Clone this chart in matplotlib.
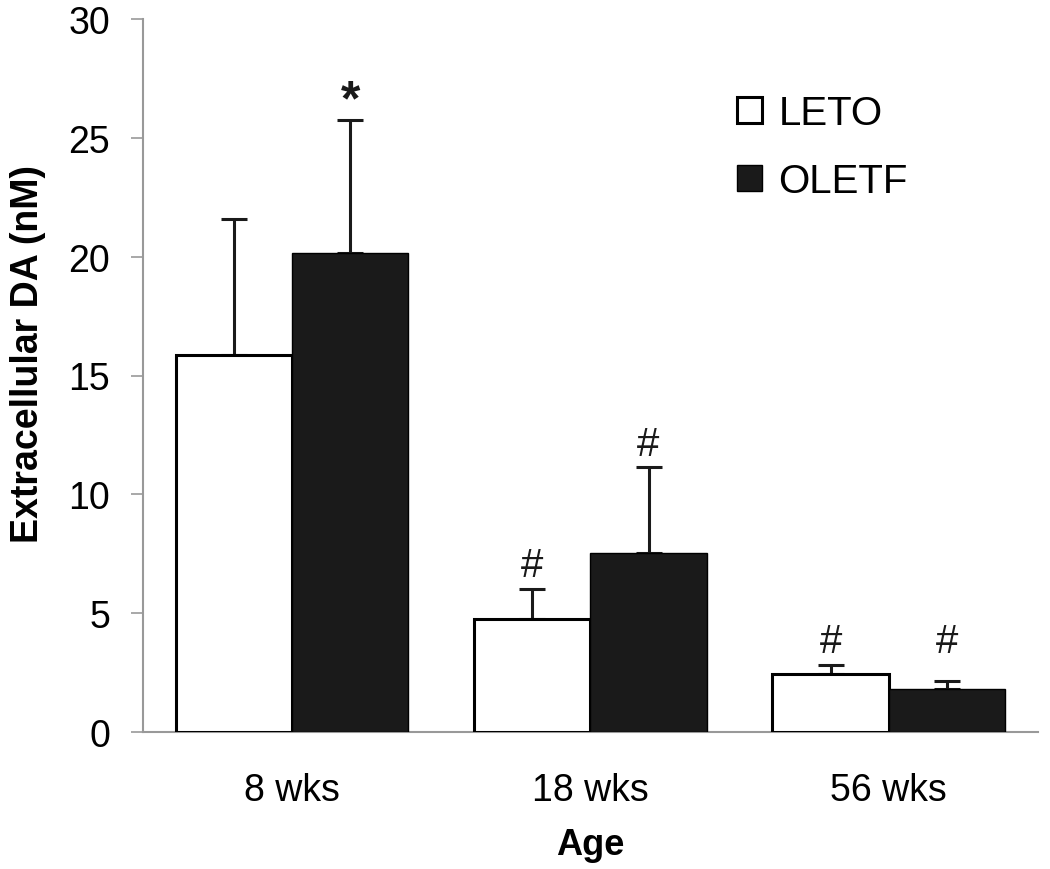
import matplotlib
matplotlib.use("Agg")
import matplotlib.pyplot as plt
import numpy as np

plt.rcParams['font.family'] = ['Liberation Sans', 'DejaVu Sans']

categories = ["8 wks", "18 wks", "56 wks"]
leto_mean = [15.85, 4.74, 2.42]
leto_err = [5.75, 1.29, 0.41]
oletf_mean = [20.15, 7.55, 1.81]
oletf_err = [5.6, 3.59, 0.35]
leto_marks = ["", "#", "#"]
oletf_marks = ["*", "#", "#"]
yticks = [0, 5, 10, 15, 20, 25, 30]

fig = plt.figure(figsize=(10.5, 8.7), dpi=100)
ax = fig.add_axes([142.7/1050, (870-733)/870, (1038-142.7)/1050, (733-20)/870])

x = np.arange(len(categories))
w = 0.39
grey = '#999999'
dark = '#1a1a1a'

b1 = ax.bar(x - w/2, leto_mean, w, color='white', edgecolor='black', linewidth=2.2, zorder=3, label='LETO')
b2 = ax.bar(x + w/2, oletf_mean, w, color=dark, edgecolor='black', linewidth=1.0, zorder=3, label='OLETF')

ax.errorbar(x - w/2, leto_mean, yerr=[np.zeros(3), leto_err], fmt='none', ecolor=dark,
            elinewidth=2.2, capsize=9.4, capthick=2.2, zorder=2)
ax.errorbar(x + w/2, oletf_mean, yerr=[np.zeros(3), oletf_err], fmt='none', ecolor=dark,
            elinewidth=2.2, capsize=9.4, capthick=2.2, zorder=2)

leto_top = np.array(leto_mean) + np.array(leto_err)
oletf_top = np.array(oletf_mean) + np.array(oletf_err)

for xi, top, t in zip(x - w/2, leto_top, leto_marks):
    if t:
        ax.annotate(t, (xi, top), xytext=(0, 9), textcoords='offset points',
                    ha='center', va='baseline', fontsize=29, color=dark)
for xi, top, ltop, t in zip(x + w/2, oletf_top, leto_top, oletf_marks):
    anchor = max(top, ltop)
    if t == '*':
        ax.annotate(t, (xi, anchor), xytext=(0, 4), textcoords='offset points',
                    ha='center', va='baseline', fontsize=36, fontweight='bold', color=dark)
    elif t:
        ax.annotate(t, (xi, anchor), xytext=(0, 9), textcoords='offset points',
                    ha='center', va='baseline', fontsize=29, color=dark)

ax.set_xlim(-0.5, 2.5)
ax.set_ylim(0, 30)
ax.set_yticks(yticks)
ax.set_yticklabels([str(t) for t in yticks], fontsize=27)
ax.set_xticks(x)
ax.set_xticklabels(categories, fontsize=27)
ax.tick_params(axis='y', direction='out', length=8.6, width=1.2, color=grey, pad=15)
ax.tick_params(axis='x', length=0, pad=28.5)

for s in ['top', 'right']:
    ax.spines[s].set_visible(False)
for s in ['left', 'bottom']:
    ax.spines[s].set_color(grey)
    ax.spines[s].set_linewidth(1.5)

ax.set_xlabel('Age', fontsize=26, fontweight='bold', labelpad=14)
ax.set_ylabel('Extracellular DA (nM)', fontsize=27, fontweight='bold')
ax.yaxis.set_label_coords(-0.108, 0.531)

leg = ax.legend(handles=[b1, b2], loc='upper left', bbox_to_anchor=(0.646, 0.917),
                frameon=False, fontsize=29, handlelength=0.62, handleheight=0.62,
                handletextpad=0.4, labelspacing=0.75, borderaxespad=0)

fig.savefig('out.png', dpi=100)
